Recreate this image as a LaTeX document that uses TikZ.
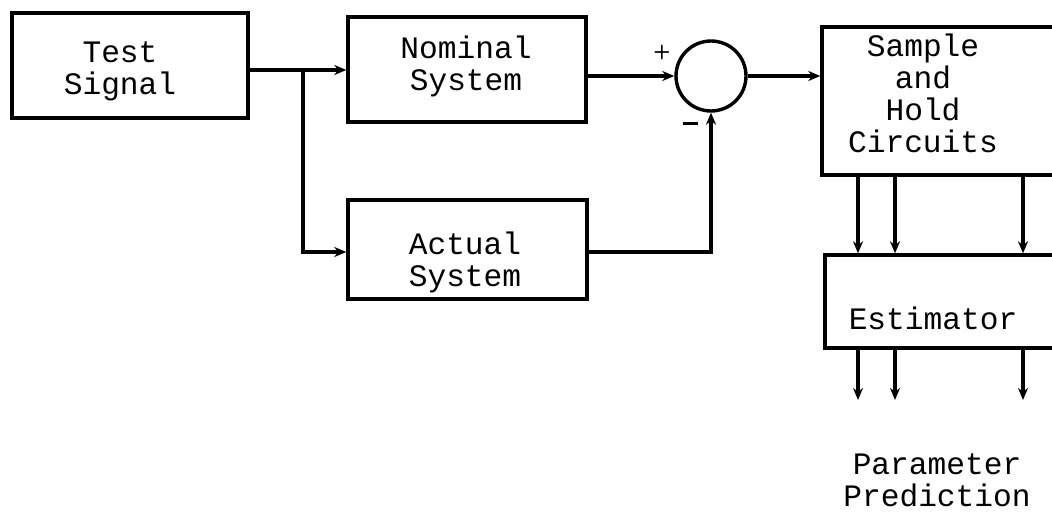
\documentclass[tikz,border=0pt]{standalone}
\usepackage{fontspec}
\setmonofont{Liberation Mono}
\usetikzlibrary{arrows.meta}
\begin{document}
\begin{tikzpicture}[x=1pt,y=-1pt,
  every node/.style={font=\ttfamily\fontsize{31.2}{32}\selectfont},
  blk/.style={draw,line width=3.4pt,inner sep=0pt},
  txt/.style={align=center,inner sep=0pt},
  wire/.style={line width=3.2pt},
  arr/.style={wire,-{Stealth[length=12pt,width=10pt]}},
  sgn/.style={inner sep=0pt,font=\bfseries\sffamily\fontsize{20}{20}\selectfont}]
\useasboundingbox (0,0) rectangle (1052,521);
\clip (0,0) rectangle (1052,521);

% main blocks
\node[blk,minimum width=236pt,minimum height=105pt] (ts) at (130,65.5) {};
\node[txt] (tst) at (120,71) {Test\\Signal};
\node[blk,minimum width=238pt,minimum height=105pt] (ns) at (467,69.5) {};
\node[txt] (nst) at (466,66) {Nominal\\System};
\node[blk,minimum width=239pt,minimum height=99pt] (as) at (467.5,249.5) {};
\node[txt] (ast) at (465,262) {Actual\\System};

% summing junction
\node[draw,circle,line width=3.4pt,minimum size=70pt,inner sep=0pt] (sum) at (711,76) {};
\node[sgn] (plus) at (662,53) {+};
\node[inner sep=0pt] (minus) at (690,124) {\rule{15pt}{3pt}};

% sample-and-hold and estimator (running past the right edge)
\node[blk,minimum width=260pt,minimum height=148pt] (sh) at (952,101) {};
\node[txt] (sht) at (923,93) {Sample\\and\\Hold\\Circuits};
\node[blk,minimum width=260pt,minimum height=93pt] (est) at (955,301.5) {};
\node[txt] (estt) at (933,318) {Estimator};
\node[txt] (pp) at (937,480) {Parameter\\Prediction};

% signal paths
\coordinate (br) at (303,70);
\draw[wire] (ts.east |- br) -- (br);
\draw[arr] (br) -- (ns.west |- br);
\draw[arr] (br) -- (303,252) -- (as.west |- 0,252);
\draw[arr] (ns.east |- sum.west) -- (sum.west);
\draw[arr] (as.east |- 0,252) -- (sum.south |- 0,252) -- (sum.south);
\draw[arr] (sum.east) -- (sh.west |- sum.east);

% parallel channels
\foreach \x/\n in {858/a,895/b,1023/c}{
  \draw[arr] (sh.south -| \x,0) -- (est.north -| \x,0);
  \coordinate (o\n) at (\x,400);
  \draw[arr] (est.south -| \x,0) -- (o\n);
}
\end{tikzpicture}
\end{document}
